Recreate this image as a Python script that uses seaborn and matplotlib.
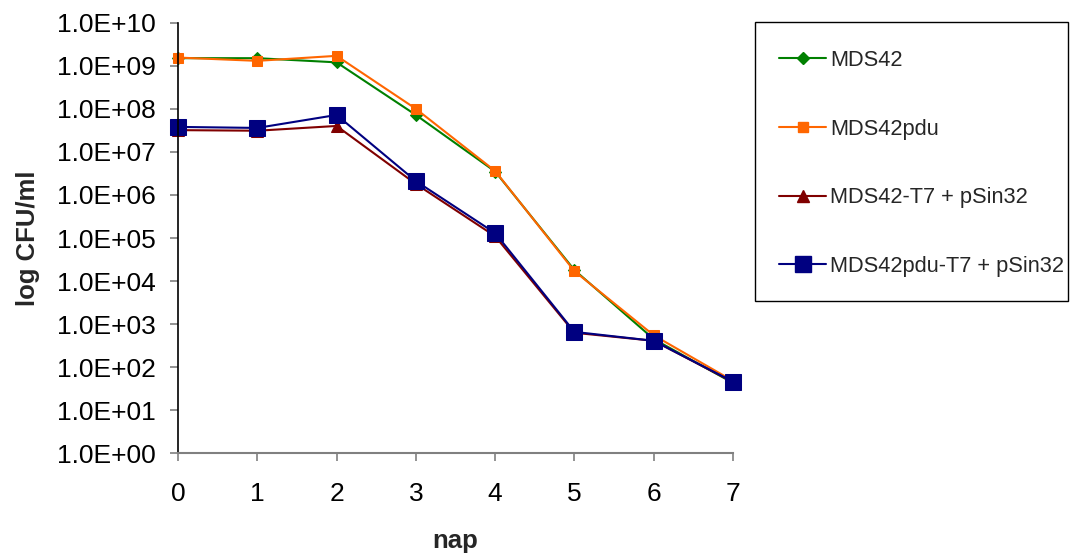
import numpy as np
import pandas as pd
import matplotlib
matplotlib.use("Agg")
import matplotlib.pyplot as plt
import seaborn as sns
from matplotlib.ticker import FixedLocator, FuncFormatter, NullLocator
from matplotlib.lines import Line2D
from matplotlib.patches import Rectangle

nap = [0, 1, 2, 3, 4, 5, 6, 7]
mds42 = [1.5e9, 1.5e9, 1.2e9, 7.2e7, 3.5e6, 1.8e4, 4.5e2, 4.3e1]
mds42pdu = [1.55e9, 1.3e9, 1.7e9, 1.0e8, 3.6e6, 1.7e4, 5.5e2, 4.8e1]
mds42_t7 = [3.2e7, 3.1e7, 4.0e7, 1.8e6, 1.1e5, 6.3e2, 4.1e2, 4.5e1]
mds42pdu_t7 = [3.8e7, 3.6e7, 7.2e7, 2.1e6, 1.3e5, 6.6e2, 4.1e2, 4.6e1]

labels = ["MDS42", "MDS42pdu", "MDS42-T7 + pSin32", "MDS42pdu-T7 + pSin32"]
values = [mds42, mds42pdu, mds42_t7, mds42pdu_t7]
colors = ["#008000", "#FF6600", "#800000", "#000080"]
markers = ["D", "s", "^", "s"]
msizes = [6.0, 7.0, 8.0, 11.0]

df = pd.DataFrame({
    "nap": np.tile(nap, len(labels)),
    "cfu": np.concatenate(values),
    "series": np.repeat(labels, len(nap)),
})

sns.set_theme(style="white")
plt.rcParams['font.family'] = ['Liberation Sans', 'DejaVu Sans']

fig = plt.figure(figsize=(10.73, 5.54), dpi=100)
ax = fig.add_axes([178/1073, 1-453.3/554, (733-178)/1073, (453.3-22.7)/554])

handles = []
for lab, col, mk, ms in zip(labels, colors, markers, msizes):
    sub = df[df["series"] == lab]
    sns.lineplot(data=sub, x="nap", y="cfu", ax=ax, color=col, marker=mk,
                 markersize=ms, markeredgecolor=col, markerfacecolor=col,
                 linewidth=1.5, legend=False, clip_on=False)
    handles.append(Line2D([], [], color=col, marker=mk, markersize=ms,
                          markeredgecolor=col, markerfacecolor=col, linewidth=1.5))

ax.set_yscale("log")
ax.set_ylim(1, 1e10)
ax.set_xlim(0, 7)
ax.yaxis.set_major_locator(FixedLocator([10.0**k for k in range(0, 11)]))
ax.yaxis.set_minor_locator(NullLocator())
ax.yaxis.set_major_formatter(FuncFormatter(lambda v, p: "1.0E+%02d" % int(round(np.log10(v)))))
ax.set_xticks(nap)

for s in ["top", "right"]:
    ax.spines[s].set_visible(False)
ax.spines["left"].set_color("black")
ax.spines["left"].set_linewidth(1.2)
ax.spines["bottom"].set_color("#808080")
ax.spines["bottom"].set_linewidth(1.5)

ax.tick_params(axis="y", which="major", direction="out", length=6, width=1.2,
               color="#808080", labelsize=19, pad=10, left=True, labelcolor="black")
ax.tick_params(axis="x", which="major", direction="out", length=6, width=1.2,
               color="#808080", labelsize=19, pad=15, bottom=True, labelcolor="black")

ax.set_xlabel("nap", fontsize=18.5, fontweight="bold", labelpad=16)
ax.set_ylabel("log CFU/ml", fontsize=18.5, fontweight="bold", labelpad=12)

leg = fig.legend(handles, labels, loc="upper left",
                 bbox_to_anchor=(754/1073, 1-25/554), bbox_transform=fig.transFigure,
                 fontsize=15.7, frameon=False,
                 handlelength=2.15, handletextpad=0.2, labelspacing=2.18,
                 borderpad=1.15, borderaxespad=0, markerscale=1.0)

fig.patches.append(Rectangle((755/1073, 1-301/554), (1068-755)/1073, (301-22)/554,
                             transform=fig.transFigure, fill=False,
                             edgecolor="black", linewidth=1.0))

fig.savefig("out.png", dpi=100)
